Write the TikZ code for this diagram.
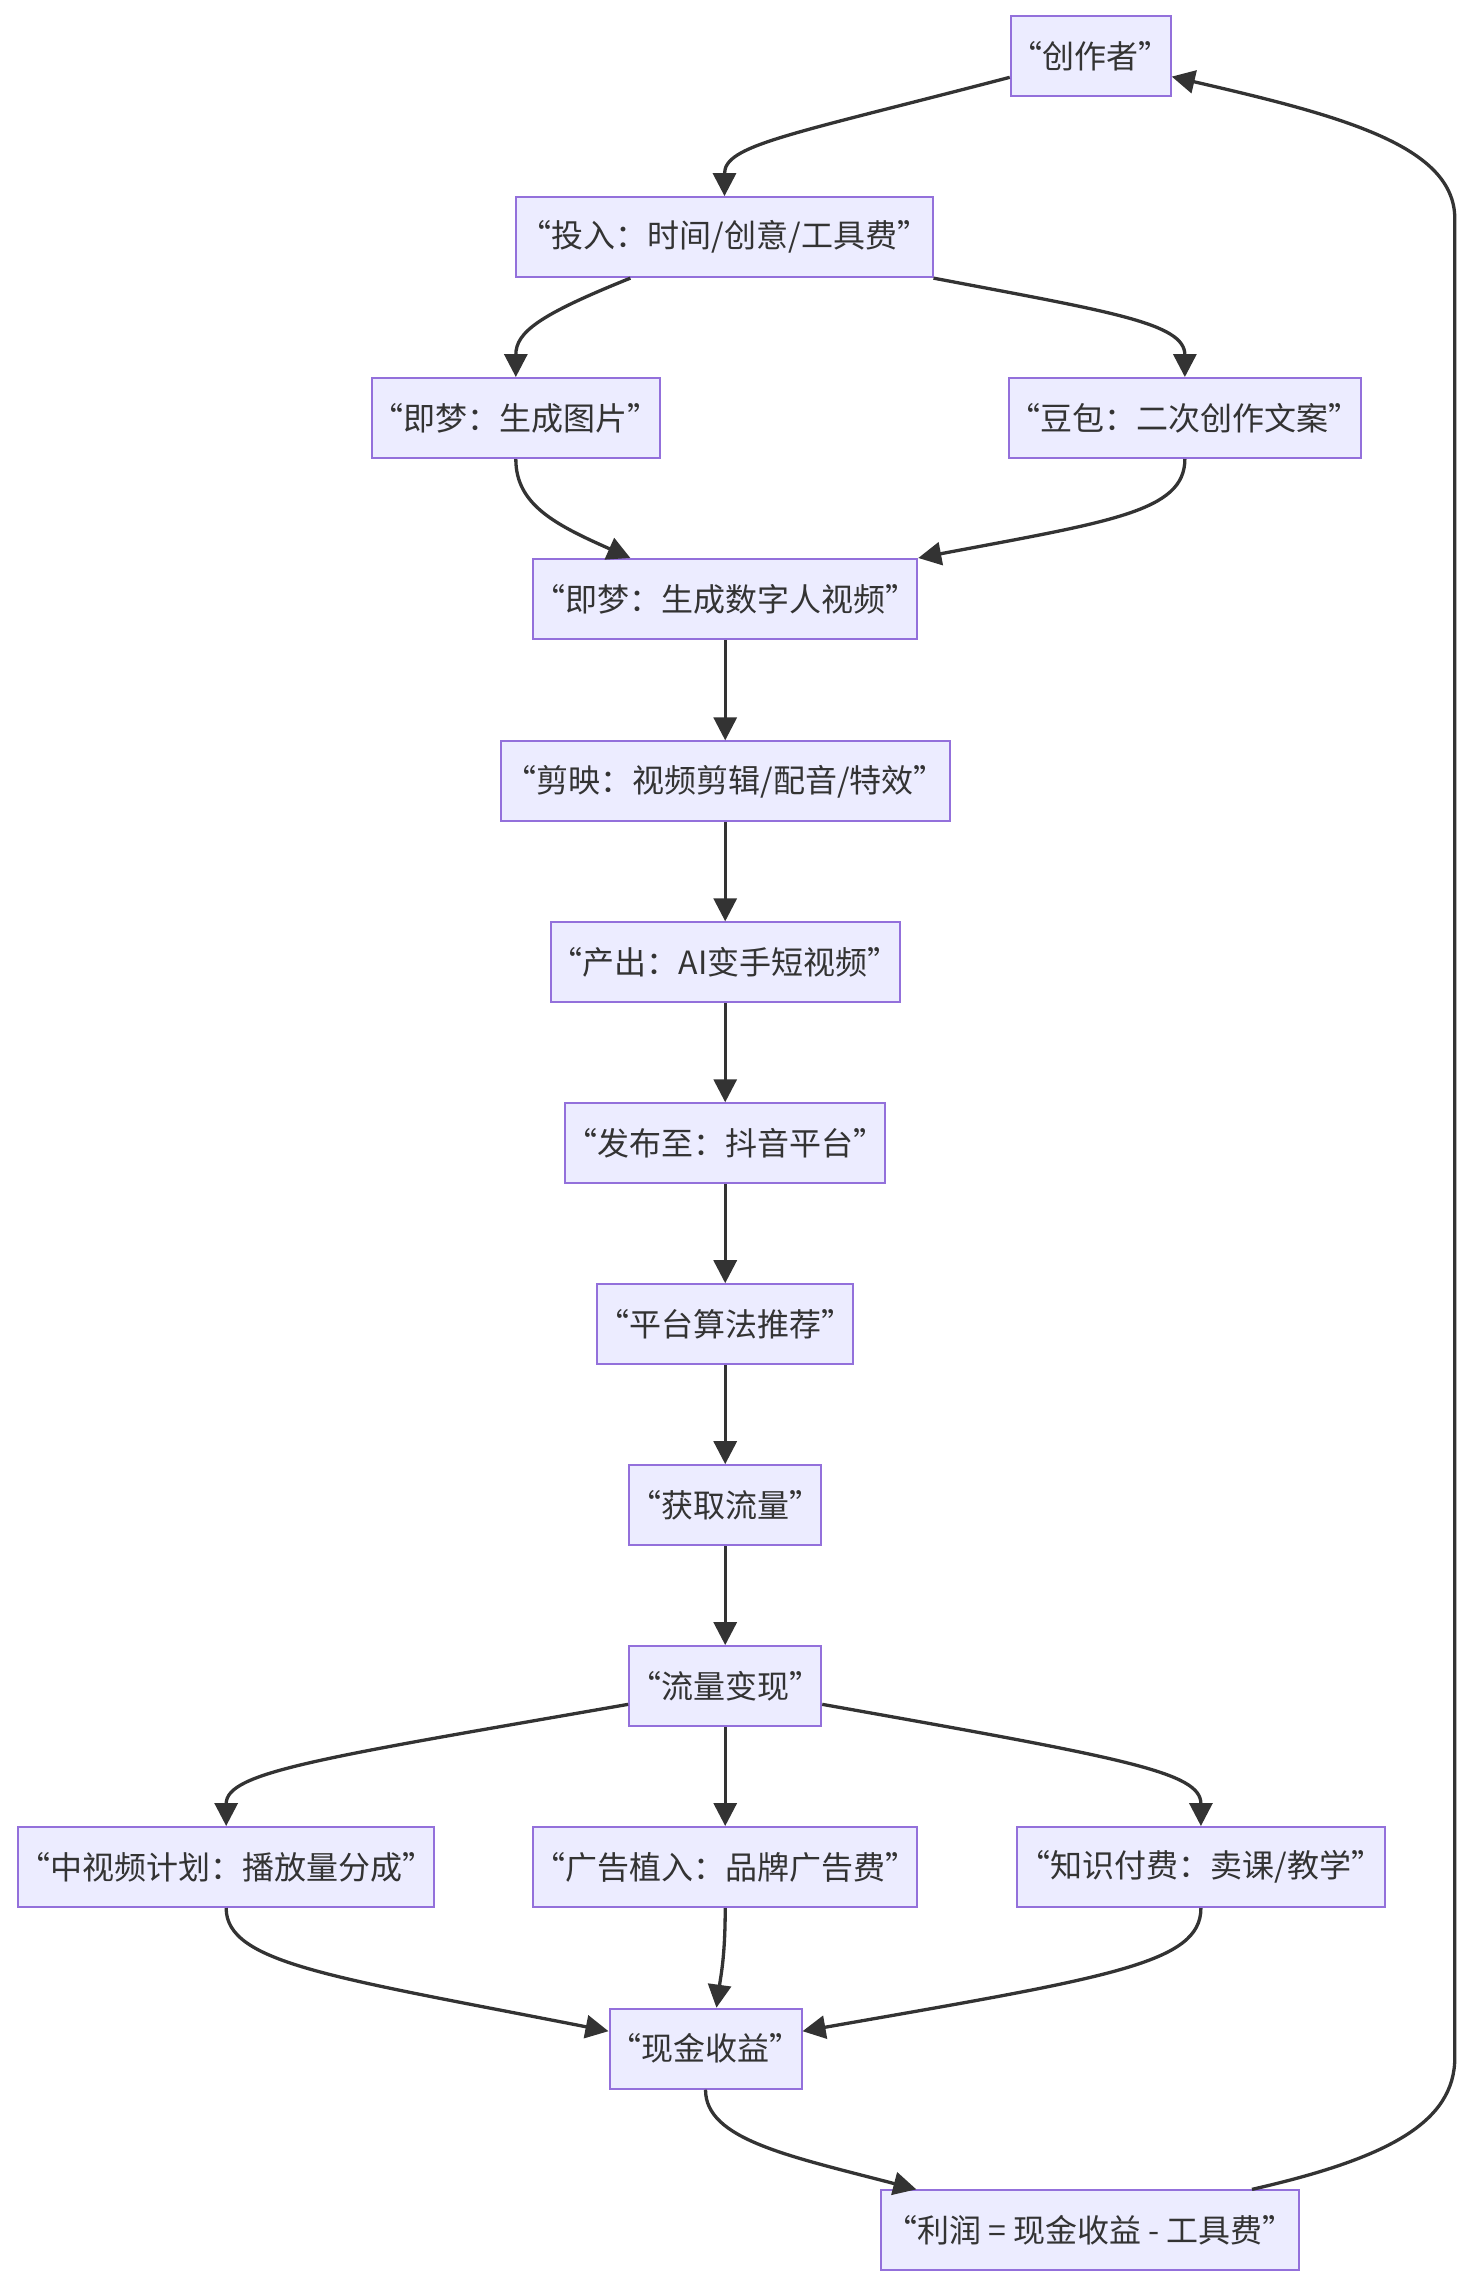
\documentclass[tikz,border=0pt]{standalone}
\usepackage{fontspec}
\setmainfont{Noto Sans CJK SC}
\usetikzlibrary{
    arrows.meta,
    positioning,
    calc
}
\definecolor{boxfill}{HTML}{ECECFF}
\definecolor{boxline}{HTML}{9370DB}
\definecolor{wire}{HTML}{333333}
\tikzset{
    % --- Process box ---
    proc/.style = {
        rectangle, draw=boxline, fill=boxfill, line width=2pt,
        minimum height=80pt, inner sep=0pt,
        font=\fontsize{32}{38}\selectfont, text=wire
    },
    % --- Flow arrow ---
    flow arrow/.style = {
        -{Triangle[length=23pt, width=23pt]}, line width=3.3pt, draw=wire
    }
}

\begin{document}
\begin{tikzpicture}[x=1.4589pt, y=-1.4589pt]

\useasboundingbox (0,0) rectangle (1009,1568);

% ---------------------------------------------------------
% Creator and input
% ---------------------------------------------------------
\node[proc, minimum width=159pt] (creator) at (747.5, 38.5) {“创作者”};
\node[proc, minimum width=416pt] (input) at (496.5, 162.5) {“投入：时间/创意/工具费”};

% ---------------------------------------------------------
% Tools
% ---------------------------------------------------------
\node[proc, minimum width=287pt] (jmImg) at (353.5, 286.5) {“即梦：生成图片”};
\node[proc, minimum width=350pt] (doubao) at (812, 286.5) {“豆包：二次创作文案”};
\node[proc, minimum width=382pt] (jmVid) at (497, 410.5) {“即梦：生成数字人视频”};
\node[proc, minimum width=449pt] (jianying) at (497, 535.5) {“剪映：视频剪辑/配音/特效”};

% ---------------------------------------------------------
% Publishing chain
% ---------------------------------------------------------
\node[proc, minimum width=347pt] (output) at (497, 659.5) {“产出：AI变手短视频”};
\node[proc, minimum width=318pt] (publish) at (497, 783.5) {“发布至：抖音平台”};
\node[proc, minimum width=254pt] (algo) at (497, 907.5) {“平台算法推荐”};
\node[proc, minimum width=190pt] (traffic) at (497, 1031.5) {“获取流量”};
\node[proc, minimum width=190pt] (monetize) at (497, 1155.5) {“流量变现”};

% ---------------------------------------------------------
% Income streams
% ---------------------------------------------------------
\node[proc, minimum width=414pt] (midVid) at (155, 1279.5) {“中视频计划：播放量分成”};
\node[proc, minimum width=382pt] (ads) at (497, 1279.5) {“广告植入：品牌广告费”};
\node[proc, minimum width=368pt] (course) at (823, 1279.5) {“知识付费：卖课/教学”};
\node[proc, minimum width=191pt] (cash) at (483.5, 1404) {“现金收益”};
\node[proc, minimum width=417pt] (profit) at (747, 1528.5) {“利润 = 现金收益 - 工具费”};

% ---------------------------------------------------------
% Upper connections
% ---------------------------------------------------------
\draw[flow arrow] ($(creator.west)+(0,14.5)$) .. controls +(-153,40) and +(0,-35) .. (input.north);
\draw[flow arrow] ($(input.south)+(-64.5,0)$) .. controls +(-62,25) and +(0,-31) .. (jmImg.north);
\draw[flow arrow] (input.south east) .. controls +(121,23) and +(0,-37) .. (doubao.north);
\draw[flow arrow] (jmImg.south) .. controls +(0,31) and +(-52,-23) .. ($(jmVid.north)+(-65,0)$);
\draw[flow arrow] (doubao.south) .. controls +(0,36) and +(132,-25) .. (jmVid.north east);

% ---------------------------------------------------------
% Straight chain
% ---------------------------------------------------------
\draw[flow arrow] (jmVid.south) -- (jianying.north);
\draw[flow arrow] (jianying.south) -- (output.north);
\draw[flow arrow] (output.south) -- (publish.north);
\draw[flow arrow] (publish.south) -- (algo.north);
\draw[flow arrow] (algo.south) -- (traffic.north);
\draw[flow arrow] (traffic.south) -- (monetize.north);

% ---------------------------------------------------------
% Monetisation split and merge
% ---------------------------------------------------------
\draw[flow arrow] ($(monetize.west)+(0,12.5)$) .. controls +(-212,37) and +(0,-37) .. (midVid.north);
\draw[flow arrow] (monetize.south) -- (ads.north);
\draw[flow arrow] ($(monetize.east)+(0,12.5)$) .. controls +(208,37) and +(0,-37) .. (course.north);
\draw[flow arrow] (midVid.south) .. controls +(0,38) and +(-188,-37) .. ($(cash.west)+(0,-12)$);
\draw[flow arrow] (ads.south) .. controls +(0,33) and +(3,-22) .. ($(cash.north)+(7.5,0)$);
\draw[flow arrow] (course.south) .. controls +(0,38) and +(211,-37) .. ($(cash.east)+(0,-12)$);
\draw[flow arrow] (cash.south) .. controls +(0,34) and +(-88,-23) .. ($(profit.north)+(-119,0)$);

% ---------------------------------------------------------
% Feedback loop: profit -> creator
% ---------------------------------------------------------
\coordinate (loopBot) at (997, 1410);
\coordinate (loopTop) at (997, 150);
\draw[flow arrow] ($(profit.north)+(111,0)$) .. controls +(92,-21) and +(0,45) .. (loopBot)
    -- (loopTop) .. controls +(0,-50) and +(117,27) .. ($(creator.east)+(0,14)$);

\end{tikzpicture}
\end{document}
